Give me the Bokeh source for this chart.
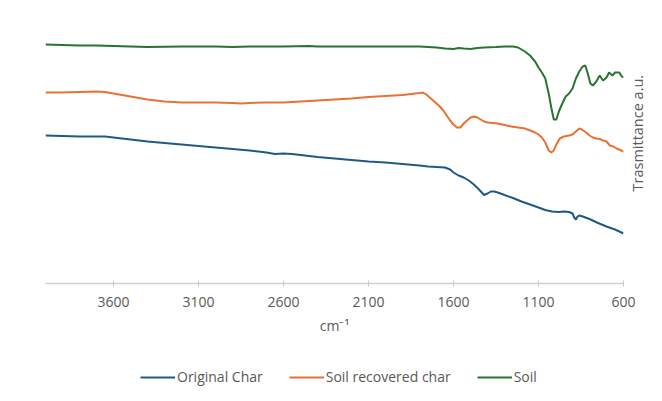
from math import pi
from bokeh.plotting import figure
from bokeh.layouts import column
from bokeh.models import Range1d, FixedTicker, Legend, LegendItem, LinearAxis
from bokeh.embed import file_html
from bokeh.resources import INLINE

# ---- data (wavenumber cm-1, transmittance a.u.) ----
soil_wn = [4000, 3900, 3800, 3700, 3600, 3500, 3400, 3200, 3000, 2900, 2800, 2600, 2450, 2400,
           2200, 2000, 1800, 1750, 1700, 1650, 1600, 1570, 1540, 1500, 1460, 1420, 1350, 1300,
           1250, 1220, 1180, 1150, 1120, 1100, 1080, 1060, 1040, 1025, 1010, 995, 980, 960,
           940, 920, 900, 880, 860, 840, 825, 810, 795, 780, 760, 740, 720, 700, 685, 665,
           650, 625, 610, 600]
soil_t = [239, 238.5, 238, 238, 237.5, 237, 236.5, 237, 237, 236.5, 237, 237, 237.5, 237,
          237, 237, 237, 236.5, 236, 235, 234.5, 235.5, 235, 234.5, 235.5, 236, 236.5, 237,
          237, 236, 232, 228, 222, 216, 211, 205, 190, 176, 164, 164, 172, 180,
          187, 190, 195, 205, 212, 217, 218, 210, 200, 198, 202, 208, 203, 206, 211, 208,
          211, 211, 207, 206]

recov_wn = [4000, 3900, 3800, 3700, 3650, 3600, 3500, 3400, 3300, 3200, 3100, 3000, 2900, 2850,
            2800, 2700, 2600, 2500, 2400, 2300, 2200, 2100, 2000, 1900, 1850, 1800, 1780, 1760,
            1740, 1720, 1700, 1680, 1660, 1640, 1620, 1600, 1580, 1560, 1540, 1520, 1500, 1480,
            1460, 1440, 1420, 1400, 1370, 1340, 1300, 1260, 1220, 1200, 1180, 1150, 1120, 1100,
            1080, 1060, 1040, 1025, 1010, 995, 975, 950, 920, 900, 880, 860, 845, 820, 800,
            780, 760, 740, 720, 700, 680, 660, 640, 620, 600]
recov_t = [191, 191, 191.5, 192, 191.5, 190, 187, 184, 182, 181, 181, 181, 180.5, 180,
           180.5, 181, 181, 182, 183, 184, 185, 186.5, 187.5, 188.5, 189.5, 190.5, 191, 189,
           186, 183, 180, 177, 173, 168, 163, 159, 156, 156, 160, 163, 166, 167,
           166, 164, 162, 161, 160.5, 160, 158.5, 157, 156, 155.5, 155, 153, 151, 149,
           146, 141, 133, 131, 133, 139, 145, 147, 148, 149, 152, 155, 154, 151, 148,
           146, 145, 144.5, 143, 142, 138, 137, 135, 133.5, 132]

orig_wn = [4000, 3900, 3800, 3700, 3650, 3600, 3500, 3400, 3300, 3200, 3100, 3000, 2900, 2800,
           2700, 2650, 2600, 2550, 2500, 2400, 2300, 2200, 2100, 2000, 1900, 1800, 1750, 1700,
           1650, 1620, 1600, 1570, 1540, 1510, 1480, 1450, 1420, 1400, 1380, 1360, 1340, 1300,
           1250, 1200, 1150, 1100, 1060, 1020, 980, 950, 920, 900, 890, 880, 870, 860, 840,
           800, 750, 700, 650, 600]
orig_t = [148, 147.5, 147, 147, 147, 146, 144, 142, 140.5, 139, 137.5, 136, 134.5, 133,
          131, 129.5, 130, 129.5, 128.5, 126.5, 125, 123.5, 122, 121, 119.5, 118, 117, 116.5,
          116, 114, 111, 108, 106, 103, 99, 94, 88.5, 90, 92, 92, 91, 88.5,
          85.5, 82, 79, 76, 73.5, 72, 71.5, 72, 71.5, 70, 66, 64, 67, 68, 67,
          64.5, 60.5, 57, 54, 50]

x_ticks = [3600, 3100, 2600, 2100, 1600, 1100, 600]
y_title = "Trasmittance a.u."
x_title = "cm\u207b\u00b9"
series_names = ["Original Char", "Soil recovered char", "Soil"]
series_colors = ["#1f5a87", "#e97132", "#2a7432"]
series_x = [orig_wn, recov_wn, soil_wn]
series_y = [orig_t, recov_t, soil_t]

FONT = "Open Sans"
GRAY = "#595959"
W = 659

p = figure(width=W, height=350, output_backend="svg", toolbar_location=None,
           x_range=Range1d(4000, 600), y_range=Range1d(0, 258),
           min_border_left=45, min_border_right=20, min_border_top=25, min_border_bottom=67,
           background_fill_color="white", border_fill_color="white",
           outline_line_color=None)

p.grid.visible = False
p.yaxis.visible = False

xa = p.xaxis[0]
xa.ticker = FixedTicker(ticks=x_ticks)
xa.axis_line_color = "#d0d0d0"
xa.axis_line_width = 1.5
xa.major_tick_line_color = "#c8c8c8"
xa.major_tick_in = 3
xa.major_tick_out = 3
xa.minor_tick_line_color = None
xa.major_label_text_color = GRAY
xa.major_label_text_font = FONT
xa.major_label_text_font_size = "14px"
xa.major_label_standoff = 10
xa.axis_label = x_title
xa.axis_label_text_color = GRAY
xa.axis_label_text_font = FONT
xa.axis_label_text_font_size = "14px"
xa.axis_label_text_font_style = "normal"
xa.axis_label_standoff = 6

# right-hand axis used only for the rotated title
ra = LinearAxis(ticker=FixedTicker(ticks=[92]), major_label_overrides={92: y_title},
                major_label_orientation=pi / 2, major_tick_line_color=None,
                major_tick_in=0, major_tick_out=0,
                minor_tick_line_color=None, axis_line_color=None,
                major_label_text_font=FONT, major_label_text_font_size="14.5px",
                major_label_text_color=GRAY, major_label_standoff=14)
p.add_layout(ra, "right")

for xs, ys, c in zip(series_x, series_y, series_colors):
    p.line(xs, ys, line_color=c, line_width=2)

# legend strip underneath (its own small plot; its lines are hidden)
lg = figure(width=W, height=50, output_backend="svg", toolbar_location=None,
            x_range=Range1d(4000, 600), y_range=Range1d(0, 1),
            x_axis_location=None, y_axis_location=None,
            min_border_left=0, min_border_right=0, min_border_top=0, min_border_bottom=0,
            outline_line_color=None, background_fill_color="white", border_fill_color="white")
lg.grid.visible = False
items = []
for xs, ys, c, name in zip(series_x, series_y, series_colors, series_names):
    r = lg.line(xs, ys, line_color=c, line_width=2, visible=False)
    items.append(LegendItem(label=name, renderers=[r]))

legend = Legend(items=items, orientation="horizontal", location=(95, 14),
                label_text_font=FONT, label_text_font_size="14px", label_text_color=GRAY,
                glyph_width=35, glyph_height=16, label_height=16, spacing=26, label_standoff=2,
                padding=0, margin=0, border_line_color=None, background_fill_alpha=0)
lg.add_layout(legend)

layout = column(p, lg, spacing=0)
open("out.html", "w").write(file_html(layout, INLINE))
